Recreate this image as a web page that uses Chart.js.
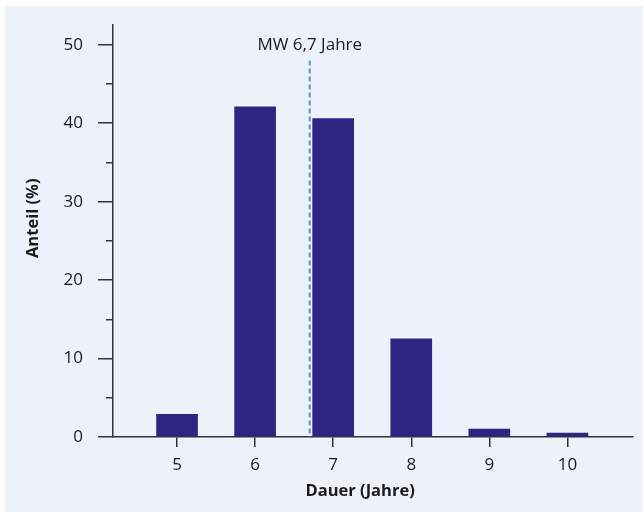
<!DOCTYPE html>
<html>
<head>
<meta charset="utf-8">
<script src="https://cdn.jsdelivr.net/npm/chart.js@4"></script>
<style>
  html, body { margin: 0; padding: 0; background: #fff; }
</style>
</head>
<body>
<canvas id="grafico_dauer" width="643" height="512"></canvas>
<script>
// Daten
const kategorien = [5, 6, 7, 8, 9, 10]
const anteil = [2.9, 42.1, 40.6, 12.5, 1.0, 0.5]
const ticksY = [0, 10, 20, 30, 40, 50]
const ticksYKlein = [5, 15, 25, 35, 45]
const mittelwert = 6.7
const mittelwertText = 'MW 6,7 Jahre'

const schrift = "'Open Sans', sans-serif"
const textFarbe = '#1a1a1a'
const achsenFarbe = '#333333'

// Hintergrund (weisser Rand + hellblaue Flaeche)
const hintergrund = {
	id: 'hintergrund',
	beforeDraw: (chart) => {
		const ctx = chart.ctx
		ctx.save()
		ctx.fillStyle = '#ffffff'
		ctx.fillRect(0, 0, chart.width, chart.height)
		ctx.fillStyle = '#edf1fa'
		ctx.fillRect(5, 6, chart.width - 5, chart.height - 6)
		ctx.restore()
	}
}

// Mittelwert-Linie
const mittelwertLinie = {
	id: 'mittelwertLinie',
	afterDatasetsDraw: (chart) => {
		const {ctx, scales: {x, y}} = chart
		const px = x.getPixelForValue(mittelwert)
		ctx.save()
		ctx.strokeStyle = '#4a98d4'
		ctx.lineWidth = 2
		ctx.setLineDash([5, 3])
		ctx.beginPath()
		ctx.moveTo(px, y.getPixelForValue(48))
		ctx.lineTo(px, y.getPixelForValue(0))
		ctx.stroke()
		ctx.setLineDash([])
		ctx.fillStyle = textFarbe
		ctx.font = `17px ${schrift}`
		ctx.textAlign = 'center'
		ctx.textBaseline = 'alphabetic'
		ctx.fillText(mittelwertText, px, y.getPixelForValue(49.3))
		ctx.restore()
	}
}

const graficoCanvas = document.getElementById('grafico_dauer')
const balkenChart = new Chart(graficoCanvas, {
	type: 'bar',
	data: {
		datasets: [{
			label: 'Anteil',
			data: kategorien.map((k, i) => ({x: k, y: anteil[i]})),
			backgroundColor: '#2e2482',
			borderWidth: 0,
			barThickness: 41,
			xAxisID: 'x',
			yAxisID: 'y'
		}]
	},
	options: {
		responsive: false,
		animation: false,
		layout: { padding: { left: 0, top: 22, right: 10, bottom: 0 } },
		plugins: {
			legend: { display: false },
			tooltip: { enabled: false }
		},
		scales: {
			x: {
				type: 'linear',
				offset: false,
				min: 4.18,
				max: 10.84,
				afterBuildTicks: (s) => { s.ticks = kategorien.map(v => ({value: v})) },
				afterFit: (s) => { s.height = 75 },
				grid: { offset: false, drawOnChartArea: false, tickLength: 10, color: achsenFarbe, lineWidth: 1.5 },
				border: { color: achsenFarbe, width: 1.5 },
				ticks: { color: textFarbe, font: { family: schrift, size: 17 }, padding: 8 },
				title: {
					display: true,
					// Leerzeichen verschieben den Titel etwas nach links, wie im Original
					text: 'Dauer (Jahre)      ',
					color: textFarbe,
					font: { family: schrift, size: 16.5, weight: 'bold' },
					padding: { top: 0, bottom: 11 }
				}
			},
			y: {
				position: 'left',
				weight: 1,
				min: 0,
				max: 52.5,
				afterBuildTicks: (s) => { s.ticks = ticksY.map(v => ({value: v})) },
				afterFit: (s) => { s.width = 113 },
				grid: { drawOnChartArea: false, tickLength: 15, color: achsenFarbe, lineWidth: 1.5 },
				border: { color: achsenFarbe, width: 1.5 },
				ticks: { color: textFarbe, font: { family: schrift, size: 17 }, padding: 15 },
				title: {
					display: true,
					// Leerzeichen verschieben den Titel etwas nach oben
					text: '      Anteil (%)',
					color: textFarbe,
					font: { family: schrift, size: 16.5, weight: 'bold' },
					padding: { top: 23, bottom: 0 }
				}
			},
			yKlein: {
				position: 'left',
				weight: 0,
				min: 0,
				max: 52.5,
				afterBuildTicks: (s) => { s.ticks = ticksYKlein.map(v => ({value: v})) },
				afterFit: (s) => { s.width = 0 },
				grid: { drawOnChartArea: false, tickLength: 7, color: achsenFarbe, lineWidth: 1.5 },
				border: { display: false },
				ticks: { display: false }
			}
		}
	},
	plugins: [hintergrund, mittelwertLinie]
})
</script>
</body>
</html>
